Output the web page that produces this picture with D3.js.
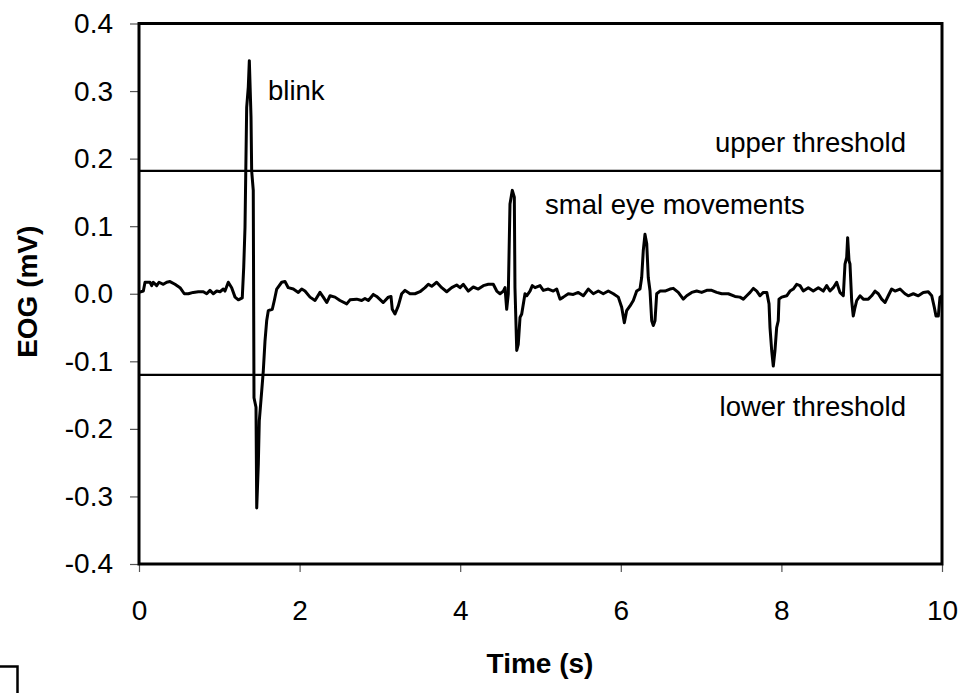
<!DOCTYPE html>
<html>
<head>
<meta charset="utf-8">
<script src="https://cdn.jsdelivr.net/npm/d3@7"></script>
<style>
  html, body { margin: 0; padding: 0; background: #fff; }
  svg { display: block; font-family: "Liberation Sans", Arial, sans-serif; }
</style>
</head>
<body>
<div id="chart"></div>
<script>
// EOG trace: time in seconds, voltage in mV
const timeS = [
  0, 0.054, 0.075, 0.137, 0.158, 0.178, 0.220, 0.249, 0.303, 0.345, 0.386, 0.448, 0.511, 0.564, 0.614,
  0.676, 0.738, 0.801, 0.843, 0.884, 0.925, 0.968, 1.009, 1.050, 1.071, 1.112, 1.154, 1.196, 1.237,
  1.286, 1.304, 1.320, 1.341, 1.361, 1.374, 1.395, 1.403, 1.423, 1.432, 1.457, 1.466, 1.486, 1.498,
  1.528, 1.548, 1.569, 1.590, 1.610, 1.660, 1.685, 1.715, 1.777, 1.818, 1.859, 1.922, 1.984,
  2.026, 2.067, 2.130, 2.192, 2.254, 2.295, 2.338, 2.379, 2.441, 2.503, 2.587, 2.628, 2.711, 2.773,
  2.814, 2.856, 2.918, 2.960, 3.042, 3.105, 3.138, 3.154, 3.188, 3.229, 3.271, 3.313, 3.375, 3.437,
  3.499, 3.562, 3.603, 3.645, 3.707, 3.770, 3.832, 3.894, 3.956, 3.998, 4.039, 4.101, 4.163, 4.225,
  4.288, 4.350, 4.412, 4.455, 4.496, 4.537, 4.558, 4.579, 4.599, 4.620, 4.649, 4.674, 4.682, 4.704,
  4.723, 4.745, 4.766, 4.807, 4.828, 4.869, 4.898, 4.932, 4.994, 5.035, 5.097, 5.159, 5.202, 5.243,
  5.284, 5.346, 5.408, 5.471, 5.533, 5.595, 5.658, 5.720, 5.782, 5.844, 5.907, 5.969, 6.011, 6.044,
  6.073, 6.115, 6.156, 6.198, 6.239, 6.260, 6.280, 6.301, 6.323, 6.342, 6.364, 6.385, 6.405, 6.426,
  6.447, 6.488, 6.550, 6.613, 6.654, 6.716, 6.778, 6.821, 6.883, 6.945, 7.007, 7.070, 7.132, 7.194,
  7.257, 7.339, 7.422, 7.484, 7.526, 7.568, 7.610, 7.651, 7.693, 7.734, 7.775, 7.818, 7.846, 7.858,
  7.879, 7.899, 7.920, 7.941, 7.961, 7.970, 8.004, 8.066, 8.107, 8.148, 8.190, 8.232, 8.273, 8.335,
  8.397, 8.460, 8.522, 8.564, 8.605, 8.646, 8.688, 8.729, 8.771, 8.792, 8.813, 8.825, 8.842, 8.854,
  8.875, 8.895, 8.917, 8.938, 8.979, 9.020, 9.082, 9.124, 9.166, 9.207, 9.249, 9.290, 9.331, 9.373,
  9.415, 9.477, 9.539, 9.580, 9.643, 9.705, 9.767, 9.829, 9.872, 9.904, 9.925, 9.954, 9.975, 10.0
];
const eogMV = [
  0.002, 0.004, 0.017, 0.017, 0.012, 0.017, 0.012, 0.017, 0.014, 0.017, 0.018, 0.014, 0.009, 0.000, 0.000,
  0.002, 0.003, 0.003, 0.000, 0.005, 0.000, 0.004, 0.003, 0.007, 0.004, 0.017, 0.009, -0.005, -0.009,
  -0.006, 0.039, 0.098, 0.276, 0.306, 0.345, 0.261, 0.182, 0.153, -0.154, -0.168, -0.317, -0.252, -0.188,
  -0.144, -0.114, -0.070, -0.040, -0.025, -0.023, -0.010, 0.007, 0.017, 0.018, 0.009, 0.007, 0.002,
  0.007, 0.004, -0.005, -0.010, 0.002, -0.005, -0.013, -0.003, -0.005, -0.010, -0.015, -0.009, -0.008, -0.010,
  -0.007, -0.010, -0.001, -0.004, -0.013, -0.005, -0.004, -0.023, -0.030, -0.018, 0.000, 0.005, 0.000, 0.000,
  0.003, 0.009, 0.014, 0.011, 0.017, 0.009, 0.003, 0.009, 0.013, 0.009, 0.014, 0.004, 0.010, 0.007,
  0.012, 0.014, 0.014, 0.004, 0.000, 0.004, 0.009, -0.023, 0.000, 0.133, 0.153, 0.143, 0.009, -0.084,
  -0.075, -0.035, -0.030, 0.000, -0.003, 0.004, 0.012, 0.009, 0.012, 0.005, 0.007, 0.004, 0.007, -0.008,
  -0.005, 0.000, -0.001, 0.002, -0.003, 0.007, 0.000, 0.004, 0.000, 0.004, 0.000, -0.005, -0.020, -0.043,
  -0.025, -0.018, -0.010, 0.004, 0.007, 0.024, 0.064, 0.088, 0.074, 0.024, 0.004, -0.040, -0.047, -0.040,
  0.000, 0.004, 0.004, 0.007, 0.008, 0.002, -0.008, -0.003, 0.002, 0.004, 0.002, 0.005, 0.005, 0.002,
  0.000, 0.000, -0.004, -0.005, -0.008, -0.003, 0.002, 0.008, 0.004, -0.003, 0.002, 0.002, -0.015, -0.050,
  -0.084, -0.107, -0.084, -0.050, -0.040, -0.008, -0.005, -0.003, 0.004, 0.007, 0.014, 0.012, 0.004, 0.009,
  0.004, 0.009, 0.004, 0.012, 0.004, 0.009, 0.017, 0.002, -0.003, 0.044, 0.054, 0.083, 0.049, 0.044,
  -0.010, -0.033, -0.020, -0.010, -0.003, -0.008, -0.008, -0.003, 0.004, 0.000, -0.008, -0.013, -0.003, 0.007,
  0.004, 0.007, 0.000, -0.003, 0.000, -0.003, 0.002, 0.003, -0.003, -0.020, -0.033, -0.033, -0.005, -0.003
];

const thresholds = [
  { name: "upper threshold", value: 0.182 },
  { name: "lower threshold", value: -0.12 },
];

const xTicks = [0, 2, 4, 6, 8, 10];
const xTickLabels = ["0", "2", "4", "6", "8", "10"];
const yTicks = [0.4, 0.3, 0.2, 0.1, 0.0, -0.1, -0.2, -0.3, -0.4];
const yTickLabels = ["0.4", "0.3", "0.2", "0.1", "0.0", "-0.1", "-0.2", "-0.3", "-0.4"];

const width = 977;
const height = 693;
const margin = { top: 23.5, right: 35, bottom: 129, left: 139 };

const svg = d3
  .select("#chart")
  .append("svg")
  .attr("width", width)
  .attr("height", height);

const xScale = d3.scaleLinear().domain([0, 10]).range([margin.left, width - margin.right]);
const yScale = d3.scaleLinear().domain([-0.4, 0.4]).range([height - margin.bottom, margin.top]);

const points = timeS.map((t, i) => [t, eogMV[i]]);

// threshold lines
svg
  .append("g")
  .selectAll("line")
  .data(thresholds)
  .join("line")
  .attr("x1", xScale(0))
  .attr("x2", xScale(10))
  .attr("y1", (d) => yScale(d.value))
  .attr("y2", (d) => yScale(d.value))
  .attr("stroke", "#000")
  .attr("stroke-width", 2.2);

// the trace
const line = d3
  .line()
  .x((d) => xScale(d[0]))
  .y((d) => yScale(d[1]));

svg
  .append("path")
  .datum(points)
  .attr("d", line)
  .attr("fill", "none")
  .attr("stroke", "#000")
  .attr("stroke-width", 3)
  .attr("stroke-linejoin", "round");

// axes
const yAxis = d3
  .axisLeft(yScale)
  .tickValues(yTicks)
  .tickFormat((d, i) => yTickLabels[i])
  .tickSize(9)
  .tickPadding(17);

const xAxis = d3
  .axisBottom(xScale)
  .tickValues(xTicks)
  .tickFormat((d, i) => xTickLabels[i])
  .tickSize(8)
  .tickPadding(28);

const gy = svg.append("g").attr("transform", `translate(${margin.left},0)`).call(yAxis);
const gx = svg.append("g").attr("transform", `translate(0,${height - margin.bottom})`).call(xAxis);

[gx, gy].forEach((g) => {
  g.select(".domain").remove();
  g.selectAll(".tick line").attr("stroke", "#555").attr("stroke-width", 1.2);
  g.selectAll(".tick text")
    .attr("fill", "#000")
    .style("font-size", "28px")
    .style("font-family", "'Liberation Sans', Arial, sans-serif");
});

// plot frame
svg
  .append("rect")
  .attr("x", xScale(0))
  .attr("y", yScale(0.4))
  .attr("width", xScale(10) - xScale(0))
  .attr("height", yScale(-0.4) - yScale(0.4))
  .attr("fill", "none")
  .attr("stroke", "#000")
  .attr("stroke-width", 3);

// axis titles
svg
  .append("text")
  .attr("x", 540)
  .attr("y", 673)
  .attr("text-anchor", "middle")
  .style("font-size", "28px")
  .style("font-weight", "bold")
  .text("Time (s)");

svg
  .append("text")
  .attr("transform", `translate(37,${yScale(0) - 2}) rotate(-90)`)
  .attr("text-anchor", "middle")
  .style("font-size", "28px")
  .style("font-weight", "bold")
  .text("EOG (mV)");

// annotations
const notes = [
  { text: "blink", x: 268, y: 100, anchor: "start" },
  { text: "upper threshold", x: 906, y: 152, anchor: "end" },
  { text: "smal eye movements", x: 545, y: 214, anchor: "start" },
  { text: "lower threshold", x: 906, y: 416, anchor: "end" },
];

svg
  .append("g")
  .selectAll("text")
  .data(notes)
  .join("text")
  .attr("x", (d) => d.x)
  .attr("y", (d) => d.y)
  .attr("text-anchor", (d) => d.anchor)
  .style("font-size", "27.5px")
  .text((d) => d.text);

// stray corner mark at the bottom left
svg
  .append("path")
  .attr("d", "M0,666.5H17.5V693")
  .attr("fill", "none")
  .attr("stroke", "#000")
  .attr("stroke-width", 2.5);
</script>
</body>
</html>
